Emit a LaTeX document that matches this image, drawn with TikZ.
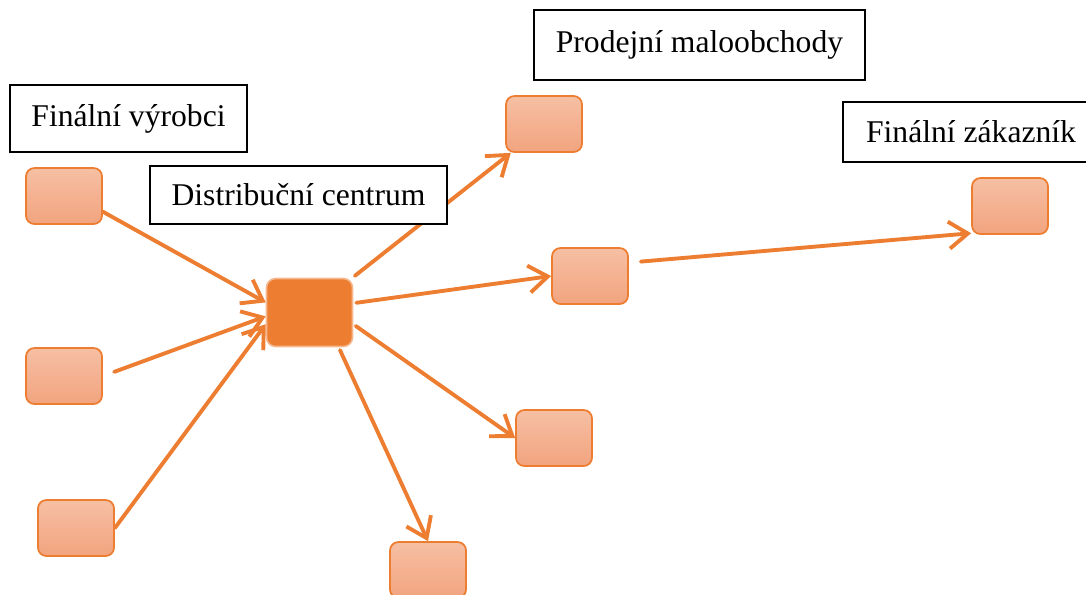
\documentclass[tikz,border=0pt]{standalone}
\usepackage{fontspec}
\setmainfont{Liberation Serif}
\usetikzlibrary{arrows.meta}
\definecolor{orangex}{HTML}{ED7D31}
\definecolor{saltop}{HTML}{F6BFA3}
\definecolor{salbot}{HTML}{F2A47F}
\tikzset{
  pt/.style={draw=orangex,line width=0.5pt,rounded corners=2.4pt,top color=saltop,bottom color=salbot,minimum width=0.76cm,minimum height=0.56cm,inner sep=0pt},
  hub/.style={draw=orangex!55!white,line width=0.45pt,fill=orangex,rounded corners=2.6pt,minimum width=0.86cm,minimum height=0.68cm,inner sep=0pt},
  lbl/.style={draw=black,line width=0.45pt,fill=white,inner sep=0pt,font=\fontsize{9}{11}\selectfont},
  ar/.style={-{Straight Barb[length=1.9mm,width=2.7mm]},line width=1.1pt,orangex,line cap=round}
}
\begin{document}
\begin{tikzpicture}
\useasboundingbox (0,0) rectangle (10.86,-5.94);
% vyrobci
\node[pt] (p1) at (0.64,-1.96) {};
\node[pt] (p2) at (0.64,-3.76) {};
\node[pt] (p3) at (0.76,-5.28) {};
% distribucni centrum
\node[hub] (dc) at (3.095,-3.125) {};
% maloobchody
\node[pt] (r1) at (5.44,-1.24) {};
\node[pt] (r2) at (5.90,-2.76) {};
\node[pt] (r3) at (5.54,-4.38) {};
\node[pt] (r4) at (4.28,-5.70) {};
% zakaznik
\node[pt] (zk) at (10.10,-2.06) {};
\draw[ar] (p1.-22) -- (dc.167);
\draw[ar,shorten <=0.12cm] (p2.east) -- (dc.185);
\draw[ar] (p3.east) -- (dc.195);
\draw[ar,shorten <=0.03cm] (dc.39) -- (r1.221);
\draw[ar,shorten <=0.03cm] (dc.12) -- (r2.west);
\draw[ar,shorten <=0.03cm] (dc.-15) -- (r3.west);
\draw[ar,shorten <=0.03cm] (dc.-50) -- (r4.north);
\draw[ar,shorten <=0.12cm] (r2.19) -- (zk.215);
% popisky
\node[lbl,minimum width=2.37cm,minimum height=0.67cm] (lv) at (1.285,-1.185) {Finální výrobci};
\node[lbl,minimum width=2.97cm,minimum height=0.58cm] (ld) at (2.985,-1.95) {Distribuční centrum};
\node[lbl,minimum width=3.31cm,minimum height=0.70cm] (lm) at (6.995,-0.45) {Prodejní maloobchody};
\node[lbl,minimum width=2.56cm,minimum height=0.60cm] (lz) at (9.71,-1.32) {Finální zákazník};
\end{tikzpicture}
\end{document}
